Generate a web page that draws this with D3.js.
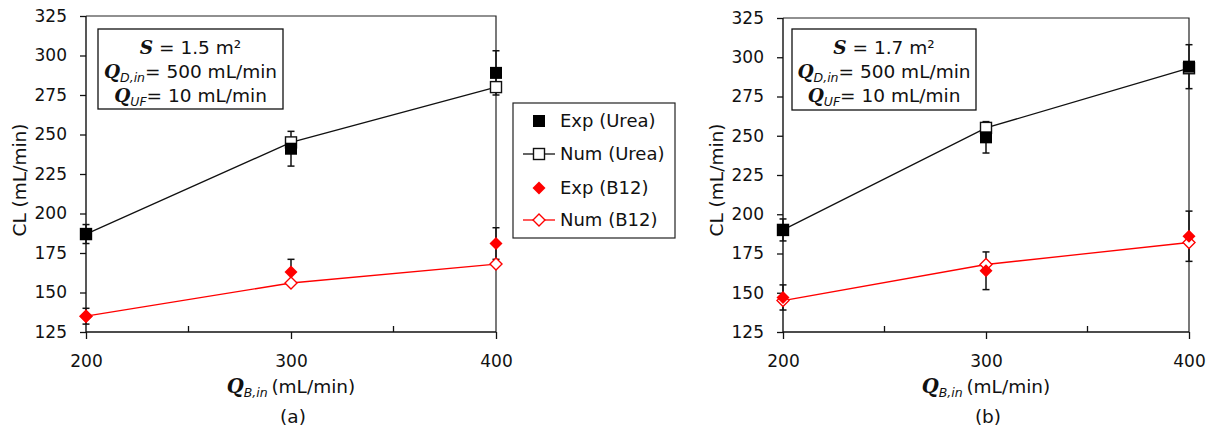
<!DOCTYPE html>
<html><head><meta charset="utf-8">
<script src="https://cdn.jsdelivr.net/npm/d3@7"></script>
<style>
body{margin:0;background:#fff}
text{font-family:"DejaVu Sans",sans-serif;fill:#111}
</style>
</head><body>
<svg id="c" width="1214" height="429"></svg>
<script>
// ---- data ----
const flowRates = [200, 300, 400];
const xMajorTicks = [200, 300, 400];
const xMinorTicks = [250, 350];
const yTicks = [125, 150, 175, 200, 225, 250, 275, 300, 325];

// panel (a): S = 1.5 m2
const expUreaA = [187, 241, 289];
const errUreaA = [6, 11, 14];
const numUreaA = [187, 245, 280];
const expB12A = [135, 163, 181];
const errB12A = [5, 8, 10];
const numB12A = [135, 156, 168];

// panel (b): S = 1.7 m2
const expUreaB = [190, 249, 294];
const errUreaB = [7, 10, 14];
const numUreaB = [190, 255, 293];
const expB12B = [147, 164, 186];
const errB12B = [8, 12, 16];
const numB12B = [145, 168, 182];

const legendLabels = ["Exp (Urea)", "Num (Urea)", "Exp (B12)", "Num (B12)"];

const svg = d3.select("#c");
const RED = "#ff0000";

function panel(cfg) {
  const x = d3.scaleLinear().domain([200, 400]).range([cfg.x0, cfg.x1]);
  const y = d3.scaleLinear().domain([125, 325]).range([cfg.y1, cfg.y0]);
  const g = svg.append("g");

  // frame (top + right)
  g.append("path").attr("d", `M${cfg.x0},${cfg.y0}H${cfg.x1}V${cfg.y1}`)
    .attr("fill", "none").attr("stroke", "#222").attr("stroke-width", 1.2);

  // y axis
  const ya = g.append("g").attr("transform", `translate(${cfg.x0},0)`)
    .call(d3.axisLeft(y).tickValues(yTicks).tickSize(6).tickPadding(13));
  ya.select(".domain").remove();
  ya.selectAll("line").attr("stroke", "#111").attr("stroke-width", 1.3);
  ya.selectAll("text").style("font-size", "17px").attr("font-family", null);
  g.append("line").attr("x1", cfg.x0).attr("x2", cfg.x0).attr("y1", cfg.y0).attr("y2", cfg.y1)
    .attr("stroke", "#111").attr("stroke-width", 1.4);

  // x axis
  const xa = g.append("g").attr("transform", `translate(0,${cfg.y1})`)
    .call(d3.axisBottom(x).tickValues(xMajorTicks).tickFormat(d3.format("d")).tickSize(7).tickPadding(16));
  xa.select(".domain").remove();
  xa.selectAll("line").attr("stroke", "#111").attr("stroke-width", 1.3);
  xa.selectAll("text").style("font-size", "17px").attr("font-family", null);
  g.append("line").attr("x1", cfg.x0).attr("x2", cfg.x1).attr("y1", cfg.y1).attr("y2", cfg.y1)
    .attr("stroke", "#111").attr("stroke-width", 1.4);
  g.selectAll(".minor").data(xMinorTicks).join("line")
    .attr("x1", d => x(d)).attr("x2", d => x(d))
    .attr("y1", cfg.y1).attr("y2", cfg.y1 - 6)
    .attr("stroke", "#111").attr("stroke-width", 1.3);

  // y label
  g.append("text").attr("transform", `translate(${cfg.ylx},180) rotate(-90)`)
    .attr("text-anchor", "middle").attr("dy", "0.35em")
    .style("font-size", "18.5px").text("CL (mL/min)");

  // x label
  const xl = g.append("text").attr("x", (cfg.x0 + cfg.x1) / 2).attr("y", 393)
    .attr("text-anchor", "middle").style("font-size", "18.5px");
  xl.append("tspan").attr("font-family", "DejaVu Serif").attr("font-style", "italic")
    .attr("font-weight", "bold").style("font-size", "19.5px").text("Q");
  xl.append("tspan").attr("font-style", "italic").style("font-size", "12.5px").attr("dy", 4).text("B,in");
  xl.append("tspan").attr("dy", -4).text("\u2009(mL/min)");

  g.append("text").attr("x", (cfg.x0 + cfg.x1) / 2 + 2).attr("y", 423)
    .attr("text-anchor", "middle").style("font-size", "18.5px").text(cfg.caption);

  // info box
  const b = cfg.box;
  g.append("rect").attr("x", b.x).attr("y", b.y).attr("width", b.w).attr("height", b.h)
    .attr("fill", "#fff").attr("stroke", "#111").attr("stroke-width", 1.3);
  const cx = b.x + b.w / 2;
  const t1 = g.append("text").attr("x", cx).attr("y", b.y + 25).attr("text-anchor", "middle").style("font-size", "18.5px");
  t1.append("tspan").attr("font-family", "DejaVu Serif").attr("font-style", "italic").attr("font-weight", "bold").text("S");
  t1.append("tspan").text(" = " + cfg.area + " m\u00b2");
  const lines = [["D,in", "= 500 mL/min"], ["UF", "= 10 mL/min"]];
  lines.forEach((l, i) => {
    const t = g.append("text").attr("x", cx).attr("y", b.y + 49 + i * 24).attr("text-anchor", "middle").style("font-size", "18.5px");
    t.append("tspan").attr("font-family", "DejaVu Serif").attr("font-style", "italic").attr("font-weight", "bold").text("Q");
    t.append("tspan").attr("font-style", "italic").style("font-size", "12.5px").attr("dy", 4).text(l[0]);
    t.append("tspan").attr("dy", -4).text(l[1]);
  });

  const pts = (arr) => flowRates.map((f, i) => [x(f), y(arr[i])]);

  // error bars
  function errBars(vals, errs) {
    flowRates.forEach((f, i) => {
      const xx = x(f), ya1 = y(vals[i] + errs[i]), ya2 = y(vals[i] - errs[i]);
      g.append("line").attr("x1", xx).attr("x2", xx).attr("y1", ya1).attr("y2", ya2).attr("stroke", "#111").attr("stroke-width", 1.5);
      [ya1, ya2].forEach(yy => g.append("line").attr("x1", xx - 3.5).attr("x2", xx + 3.5).attr("y1", yy).attr("y2", yy).attr("stroke", "#111").attr("stroke-width", 1.5));
    });
  }
  errBars(cfg.expU, cfg.errU);
  errBars(cfg.expB, cfg.errB);

  const line = d3.line();
  g.append("path").attr("d", line(pts(cfg.numU))).attr("fill", "none").attr("stroke", "#111").attr("stroke-width", 1.3);
  g.append("path").attr("d", line(pts(cfg.numB))).attr("fill", "none").attr("stroke", RED).attr("stroke-width", 1.3);

  const di = (s) => `M0,${-s}L${s},0L0,${s}L${-s},0Z`;
  pts(cfg.numU).forEach(p => g.append("rect").attr("x", p[0] - 5.5).attr("y", p[1] - 5.5).attr("width", 11).attr("height", 11)
    .attr("fill", "#fff").attr("stroke", "#111").attr("stroke-width", 1.4));
  pts(cfg.numB).forEach(p => g.append("path").attr("d", di(6)).attr("transform", `translate(${p[0]},${p[1]})`)
    .attr("fill", "#fff").attr("stroke", RED).attr("stroke-width", 1.4));
  pts(cfg.expU).forEach(p => g.append("rect").attr("x", p[0] - 6).attr("y", p[1] - 6).attr("width", 12).attr("height", 12).attr("fill", "#000"));
  pts(cfg.expB).forEach(p => g.append("path").attr("d", di(6.5)).attr("transform", `translate(${p[0]},${p[1]})`).attr("fill", RED));
  return {x, y};
}

panel({x0: 86, x1: 496, y0: 16, y1: 332, ylx: 20, caption: "(a)", area: "1.5",
  box: {x: 98, y: 29, w: 185, h: 80},
  expU: expUreaA, errU: errUreaA, numU: numUreaA, expB: expB12A, errB: errB12A, numB: numB12A});
panel({x0: 783, x1: 1189, y0: 18, y1: 332, ylx: 717, caption: "(b)", area: "1.7",
  box: {x: 792, y: 29, w: 184, h: 81},
  expU: expUreaB, errU: errUreaB, numU: numUreaB, expB: expB12B, errB: errB12B, numB: numB12B});

// legend
const lg = svg.append("g");
lg.append("rect").attr("x", 513).attr("y", 103).attr("width", 162).attr("height", 135)
  .attr("fill", "#fff").attr("stroke", "#222").attr("stroke-width", 1.2);
const ly = [121, 154, 188, 220];
legendLabels.forEach((lab, i) => {
  const yy = ly[i], sx = 539;
  if (i === 1 || i === 3) {
    lg.append("line").attr("x1", 523).attr("x2", 555).attr("y1", yy).attr("y2", yy)
      .attr("stroke", i === 1 ? "#111" : RED).attr("stroke-width", 1.3);
  }
  if (i === 0) lg.append("rect").attr("x", sx - 6).attr("y", yy - 6).attr("width", 12).attr("height", 12).attr("fill", "#000");
  if (i === 1) lg.append("rect").attr("x", sx - 5.5).attr("y", yy - 5.5).attr("width", 11).attr("height", 11).attr("fill", "#fff").attr("stroke", "#111").attr("stroke-width", 1.4);
  if (i === 2) lg.append("path").attr("d", "M0,-6.5L6.5,0L0,6.5L-6.5,0Z").attr("transform", `translate(${sx},${yy})`).attr("fill", RED);
  if (i === 3) lg.append("path").attr("d", "M0,-6L6,0L0,6L-6,0Z").attr("transform", `translate(${sx},${yy})`).attr("fill", "#fff").attr("stroke", RED).attr("stroke-width", 1.4);
  lg.append("text").attr("x", 560).attr("y", yy).attr("dy", "0.36em").style("font-size", "18px").text(lab);
});
</script>
</body></html>
